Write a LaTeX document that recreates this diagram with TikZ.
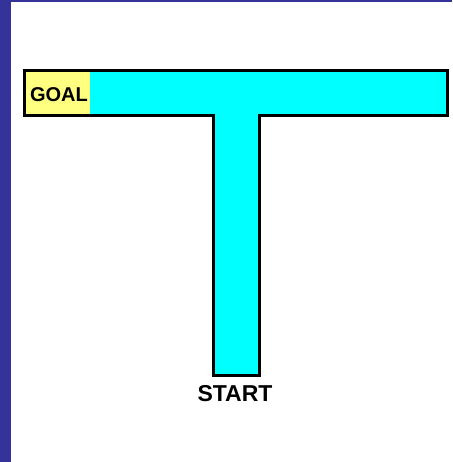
\documentclass[tikz,border=0pt]{standalone}
\usepackage{fontspec}
\setmainfont{Liberation Sans}
\usetikzlibrary{positioning}
\definecolor{frameblue}{HTML}{333399}
\definecolor{mazecyan}{HTML}{00FFFF}
\definecolor{goalyellow}{HTML}{FFFF80}
\tikzset{mazewall/.style={line width=3pt,line join=miter},
         mazelabel/.style={inner sep=0pt,font=\fontsize{20}{24}\selectfont\bfseries}}

\begin{document}
\begin{tikzpicture}[x=1pt,y=-1pt]
\useasboundingbox (0,0) rectangle (452,462);
\fill[frameblue] (0,0) rectangle (11,462);
\fill[frameblue] (0,0) rectangle (452,2);
\coordinate (A) at (24.5,70.5); \coordinate (B) at (447.5,70.5); \coordinate (C) at (447.5,115.5);
\coordinate (D) at (259.5,115.5); \coordinate (E) at (259.5,375.5); \coordinate (F) at (213.5,375.5);
\coordinate (G) at (213.5,115.5); \coordinate (H) at (24.5,115.5);
\fill[mazecyan] (A) -- (B) -- (C) -- (D) -- (E) -- (F) -- (G) -- (H) -- cycle;
\fill[goalyellow] (A) rectangle (90,115.5);
\draw[mazewall] (A) -- (B) -- (C) -- (D) -- (E) -- (F) -- (G) -- (H) -- cycle;
\node[mazelabel] (goal) at (59,95) {GOAL};
\node[mazelabel,font=\fontsize{23}{26}\selectfont\bfseries] (start) at (235,393.5) {START};
\end{tikzpicture}
\end{document}
